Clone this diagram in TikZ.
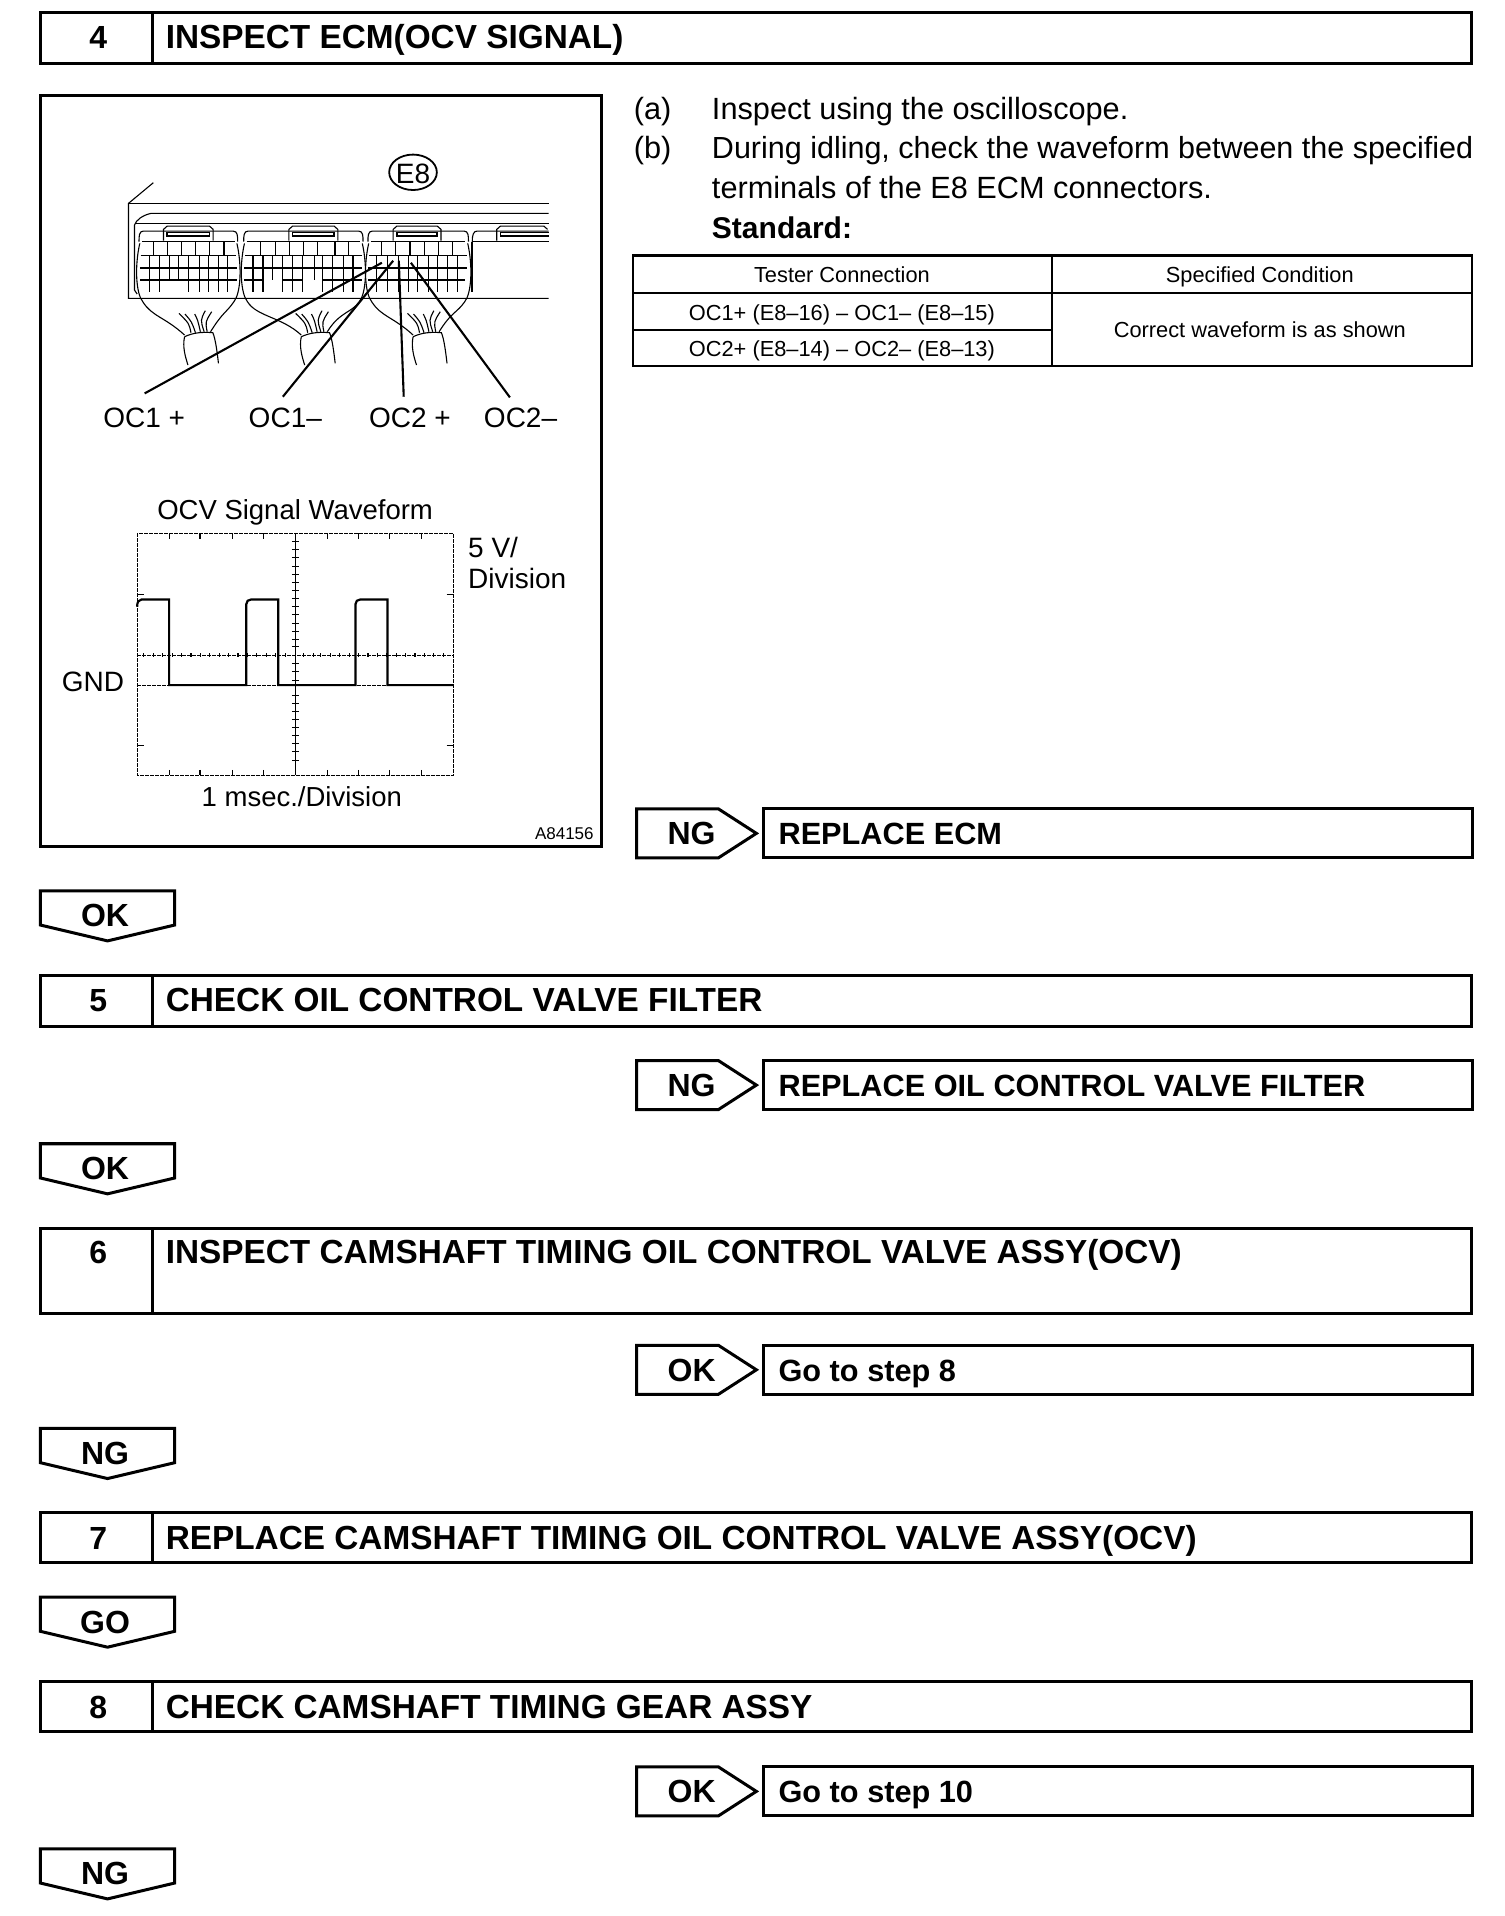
\documentclass[tikz,border=0pt]{standalone}
\usepackage{fontspec}
\setmainfont{Liberation Sans}
\newcommand{\fs}[1]{\fontsize{#1}{#1}\selectfont}
\tikzset{
  heavy/.style={line width=3pt,line join=miter},
  thin line/.style={line width=1.1pt},
  mid line/.style={line width=1.6pt},
  leader/.style={line width=2.1pt},
  wave/.style={line width=2.2pt},
  title/.style={inner sep=0pt,anchor=base west,font=\bfseries\fs{33.35}},
  num/.style={inner sep=0pt,anchor=base,font=\bfseries\fs{32}},
  tag/.style={inner sep=0pt,anchor=base,font=\bfseries\fs{32}},
  lbl/.style={inner sep=0pt,anchor=base,font=\fs{28}},
  lbll/.style={inner sep=0pt,anchor=base west,font=\fs{28}},
  body/.style={inner sep=0pt,anchor=base west,font=\fs{30.7}},
  cell/.style={inner sep=0pt,anchor=base,font=\fs{21.8}},
  zoomA/.style={shift={(24.4,73.7)},x=.3765pt,y=-.3333pt},
  zoomB/.style={shift={(24.4,392.9)},x=.3765pt,y=-.3333pt},
}
% name, top, bottom, number, title
\newcommand{\stepbar}[5]{%
  \draw[heavy] (33,#2) rectangle (1204,#3) (125,#2) -- (125,#3);
  \node[num] (n#1) at (80.5,{#2+30}) {#4};
  \node[title] (t#1) at (135.5,{#2+30}) {#5};
}
% name, top, tag, box text
\newcommand{\sidebar}[4]{%
  \draw[heavy] (521,#2) -- (588,#2) -- (619,{#2+20}) -- (588,{#2+40}) -- (521,{#2+40}) -- cycle;
  \draw[heavy] (625,#2) rectangle (1205,{#2+40});
  \node[tag] (s#1) at (566,{#2+29.5}) {#3};
  \node[title,font=\bfseries\fs{30.7}] (b#1) at (637,{#2+29.5}) {#4};
}
% name, top, tag
\newcommand{\downtag}[3]{%
  \draw[heavy] (33,#2) -- (143,#2) -- (143,{#2+28}) -- (88,{#2+41}) -- (33,{#2+28}) -- cycle;
  \node[tag] (d#1) at (86,{#2+29.5}) {#3};
}
% one connector
\newcommand{\conn}[5]{% left, right, latchL, latchR, cableL
  \draw[thin line] (#1,455) .. controls (#1,438) and (#1,423) .. ({#1+12},423) -- ({#2-12},423) .. controls (#2,423) and (#2,438) .. (#2,455);
  \draw[thin line] (#3,452) -- (#3,418) -- ({#3+10},408) -- ({#4-10},408) -- (#4,418) -- (#4,452);
  \draw[mid line] ({#3+10},427) rectangle ({#4-10},438);
  \draw[thin line] ({#1+8},455) -- ({#2-8},455) ({#1+4},495) -- ({#2-4},495);
  % shell
  \draw[thin line] ({#1+2},460) .. controls ({#1-12},530) and ({#1-8},610) .. ({#1+10},635)
     .. controls ({#1+35},680) and ({#5-50},680) .. ({#5+3},735);
  \draw[thin line] ({#2-2},460) .. controls ({#2+12},530) and ({#2+8},610) .. ({#2-10},635)
     .. controls ({#2-30},668) and ({#5+105},665) .. ({#5+72},725);
  % cable
  \draw[thin line] ({#5+3},740) .. controls ({#5+25},728) and ({#5+50},725) .. ({#5+78},728)
     .. controls ({#5+85},745) and ({#5+90},790) .. ({#5+93},820);
  \draw[thin line] ({#5+3},740) .. controls ({#5-3},770) and ({#5+5},800) .. ({#5+12},825);
  % wires
  \draw[thin line] ({#5+20},728) .. controls ({#5+15},700) .. ({#5-12},670);
  \draw[thin line] ({#5+32},728) .. controls ({#5+22},695) .. ({#5+4},672);
  \draw[thin line] ({#5+45},725) .. controls ({#5+38},690) .. ({#5+30},672);
  \draw[thin line] ({#5+55},725) .. controls ({#5+45},690) .. ({#5+58},662);
  \draw[thin line] ({#5+63},725) .. controls ({#5+58},695) .. ({#5+75},665);
}
\begin{document}
\begin{tikzpicture}[x=1.2218pt,y=-1.2218pt]
\useasboundingbox[fill=white] (0,0) rectangle (1231,1568);

\stepbar{four}{10}{52}{4}{INSPECT ECM(OCV SIGNAL)}
\stepbar{five}{798}{840}{5}{CHECK OIL CONTROL VALVE FILTER}
\draw[heavy] (33,1005) rectangle (1204,1075) (125,1005) -- (125,1075);
\node[num] (nsix) at (80.5,1034) {6};
\node[title] (tsix) at (135.5,1034) {INSPECT CAMSHAFT TIMING OIL CONTROL VALVE ASSY(OCV)};
\stepbar{seven}{1238}{1279}{7}{REPLACE CAMSHAFT TIMING OIL CONTROL VALVE ASSY(OCV)}
\stepbar{eight}{1376}{1417}{8}{CHECK CAMSHAFT TIMING GEAR ASSY}

\sidebar{a}{662}{NG}{REPLACE ECM}
\sidebar{b}{868}{NG}{REPLACE OIL CONTROL VALVE FILTER}
\sidebar{c}{1101}{OK}{Go to step 8}
\sidebar{d}{1446}{OK}{Go to step 10}

\downtag{a}{729}{OK}
\downtag{b}{936}{OK}
\downtag{c}{1169}{NG}
\downtag{d}{1307}{GO}
\downtag{e}{1513}{NG}

% illustration frame
\draw[heavy] (33,78) rectangle (492.5,693);

% ECM drawing
\begin{scope}[zoomA]
  \draw[thin line] (328,278) -- (262,340) -- (262,625) -- (1378,625);
  \draw[thin line] (262,340) -- (1378,340);
  \draw[thin line] (1378,370) -- (322,370) .. controls (300,375) and (282,390) .. (278,405) -- (278,600) -- (285,612);
  \draw[thin line] (280,400) -- (1378,400);
  \conn{290}{552}{355}{487}{408}
  \conn{568}{885}{688}{818}{718}
  \conn{898}{1165}{965}{1092}{1015}
  % fourth connector
  \draw[thin line] (1175,455) .. controls (1175,435) and (1178,423) .. (1188,423) -- (1378,423);
  \draw[thin line] (1240,452) -- (1240,418) -- (1250,408) -- (1365,408) -- (1375,418);
  \draw[mid line] (1378,427) -- (1250,427) -- (1250,437) -- (1378,437);
  \draw[thin line] (1175,455) -- (1378,455);
  \draw[mid line] (1175,455) -- (1175,605);
  % grid, block 1
  \foreach \q in {365,403,440,477} \draw[thin line] (\q,455) -- (\q,495);
  \foreach \q in {328,515} \draw[mid line] (\q,455) -- (\q,495);
  \foreach \q in {317,345} \draw[thin line] (\q,495) -- (\q,605);
  \foreach \q in {372,395} \draw[thin line] (\q,495) -- (\q,569);
  \foreach \q in {422,450,475,500,525} \draw[thin line] (\q,495) -- (\q,605);
  \draw[mid line] (292,533) -- (550,533) (292,569) -- (550,569);
  % grid, block 2
  \foreach \q in {652,690,727,765,847} \draw[thin line] (\q,455) -- (\q,495);
  \foreach \q in {613,810} \draw[mid line] (\q,455) -- (\q,495);
  \foreach \q in {592,620,858} \draw[mid line] (\q,495) -- (\q,605);
  \foreach \q in {645,698,755,805,832} \draw[thin line] (\q,495) -- (\q,569);
  \foreach \q in {672,698,725,778,805,832} \draw[thin line] (\q,495) -- (\q,605);
  \draw[mid line] (570,533) -- (882,533) (570,569) -- (618,569) (672,569) -- (725,569) (778,569) -- (882,569);
  % grid, block 3
  \foreach \q in {935,972,1048,1085,1122} \draw[thin line] (\q,455) -- (\q,495);
  \draw[mid line] (1010,455) -- (1010,495);
  \foreach \q in {920,950,978,1005,1030,1058,1082,1110,1135} \draw[thin line] (\q,495) -- (\q,605);
  \draw[mid line] (898,533) -- (1160,533) (898,569) -- (1155,569);
  % pin targets
  \coordinate (p1) at (935,518);
  \coordinate (p2) at (965,512);
  \coordinate (p3) at (980,512);
  \coordinate (p4) at (1012,518);
  \coordinate (q1) at (305,910);
  \coordinate (q2) at (672,920);
  \coordinate (q3) at (993,920);
  \coordinate (q4) at (1275,922);
  \draw[leader] (q1) -- (p1);
  \draw[leader] (q2) -- (p2);
  \draw[leader] (q3) -- (p3);
  \draw[leader] (q4) -- (p4);
\end{scope}

\draw[line width=1.8pt] (338,141) ellipse (19.5 and 14.5);
\node[inner sep=0pt,anchor=base,font=\fs{28}] (econn) at (338,150.5) {E8};

\node[lbl] (oc1p) at (118,349.5) {OC1 +};
\node[lbl] (oc1m) at (233.5,349.5) {OC1–};
\node[lbl] (oc2p) at (335.5,349.5) {OC2 +};
\node[lbl] (oc2m) at (426,349.5) {OC2–};

% oscilloscope graticule
\begin{scope}[zoomB]
  \draw[line width=.9pt,dash pattern=on 4pt off 1pt] (285,160) rectangle (1125,885);
  \draw[line width=.9pt,dash pattern=on 4pt off 1pt] (285,616) -- (1125,616);
  \draw[thin line] (705,160) -- (705,885);
  \draw[line width=.9pt,dash pattern=on 4pt off 1pt] (285,525) -- (1125,525);
  \foreach \q in {370,452,538,620,790,872,955,1040} {
    \draw[thin line] (\q,160) -- (\q,176);
    \draw[thin line] (\q,869) -- (\q,885);
  }
  \foreach \q in {342,797} {
    \draw[thin line] (285,\q) -- (303,\q);
    \draw[thin line] (1107,\q) -- (1125,\q);
  }
  \foreach \q in {303,328,353,378,403,428,453,478,503,528,553,578,603,628,653,678,728,753,773,798,823,848,873,898,923,948,973,998,1023,1048,1073,1098}
    \draw[thin line] (\q,519) -- (\q,531);
  \foreach \q in {185,209,233,258,283,307,331,356,380,404,429,453,478,500,550,575,600,645,670,694,718,743,767,791,815,840}
    \draw[thin line] (696,\q) -- (714,\q);
  \draw[wave] (285,380) .. controls (285,366) and (289,358) .. (297,358) -- (370,358) -- (370,615) -- (575,615) -- (575,372)
     .. controls (575,364) and (580,358) .. (588,358) -- (660,358) -- (660,615) -- (865,615) -- (865,372)
     .. controls (865,364) and (870,358) .. (878,358) -- (950,358) -- (950,615) -- (1125,615);
\end{scope}

\node[lbl,font=\fs{27.5}] (wtitle) at (241.5,425.5) {OCV Signal Waveform};
\node[lbll] (v1) at (383,456) {5 V/};
\node[lbll] (v2) at (383,482) {Division};
\node[lbl] (gnd) at (76,566) {GND};
\node[lbl,font=\fs{27.5}] (tdiv) at (247,660) {1 msec./Division};
\node[inner sep=0pt,anchor=base east,font=\fs{17}] (refno) at (486,687) {A84156};

% instructions
\node[body] (ia) at (518.5,98) {(a)};
\node[body] (ta) at (582.5,98) {Inspect using the oscilloscope.};
\node[body] (ib) at (518.5,130) {(b)};
\node[body,font=\fs{30.5}] (tb1) at (582.5,130) {During idling, check the waveform between the specified};
\node[body] (tb2) at (582.5,162.5) {terminals of the E8 ECM connectors.};
\node[body,font=\bfseries\fs{30}] (std) at (582.5,195) {Standard:};

% table
\draw[line width=2.4pt] (518,209) rectangle (1204.5,299.5);
\draw[line width=2.4pt] (861,209) -- (861,299.5);
\draw[line width=2.4pt] (518,240) -- (1204.5,240);
\draw[line width=2.4pt] (518,270) -- (861,270);
\node[cell] (h1) at (689,231) {Tester Connection};
\node[cell] (h2) at (1031,231) {Specified Condition};
\node[cell] (c1) at (689,262) {OC1+ (E8–16) – OC1– (E8–15)};
\node[cell] (c2) at (689,292) {OC2+ (E8–14) – OC2– (E8–13)};
\node[cell] (c3) at (1031,276) {Correct waveform is as shown};
\end{tikzpicture}
\end{document}
